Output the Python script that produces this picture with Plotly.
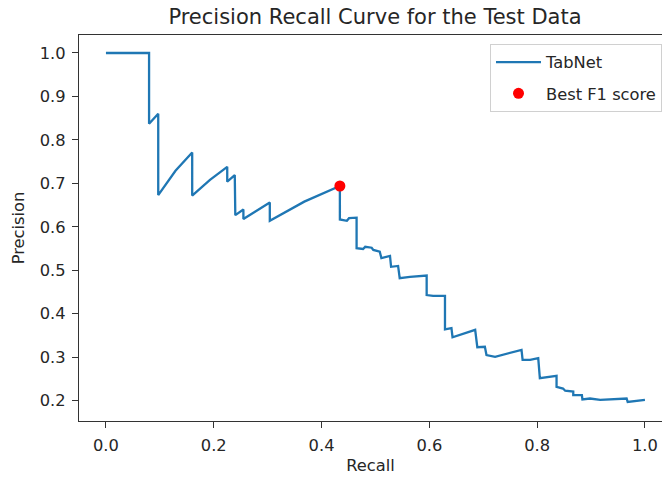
import plotly.graph_objects as go

# Precision-recall curve values
recall = [0.000, 0.080, 0.080, 0.097, 0.097, 0.129, 0.160, 0.160, 0.193, 0.225,
          0.225, 0.239, 0.240, 0.255, 0.255, 0.304, 0.304, 0.368, 0.434, 0.434,
          0.447, 0.451, 0.465, 0.465, 0.477, 0.481, 0.493, 0.496, 0.508, 0.511,
          0.527, 0.529, 0.542, 0.545, 0.564, 0.595, 0.595, 0.607, 0.629, 0.629,
          0.641, 0.643, 0.685, 0.689, 0.703, 0.706, 0.722, 0.771, 0.773, 0.787,
          0.802, 0.805, 0.836, 0.836, 0.848, 0.852, 0.867, 0.867, 0.883, 0.884,
          0.898, 0.917, 0.966, 0.968, 1.000]
precision = [1.000, 1.000, 0.837, 0.860, 0.673, 0.729, 0.771, 0.672, 0.708, 0.738,
             0.704, 0.719, 0.627, 0.640, 0.618, 0.656, 0.614, 0.658, 0.694, 0.617,
             0.614, 0.620, 0.621, 0.551, 0.549, 0.554, 0.552, 0.547, 0.543, 0.528,
             0.533, 0.508, 0.510, 0.482, 0.485, 0.488, 0.443, 0.441, 0.441, 0.364,
             0.367, 0.346, 0.363, 0.323, 0.324, 0.305, 0.301, 0.317, 0.294, 0.294,
             0.298, 0.252, 0.257, 0.232, 0.228, 0.223, 0.221, 0.213, 0.213, 0.203,
             0.205, 0.202, 0.205, 0.197, 0.202]

best_recall = [0.434]
best_precision = [0.694]

series_names = ["TabNet", "Best F1 score"]
x_ticks = [0.0, 0.2, 0.4, 0.6, 0.8, 1.0]
y_ticks = [0.2, 0.3, 0.4, 0.5, 0.6, 0.7, 0.8, 0.9, 1.0]

FONT = "DejaVu Sans"
TXT = "#262626"
FS = 16.3

fig = go.Figure()
fig.add_trace(go.Scatter(
    x=recall, y=precision, mode="lines", name=series_names[0],
    line=dict(color="#1f77b4", width=2.3), legendgroup="a",
))
fig.add_trace(go.Scatter(
    x=best_recall, y=best_precision, mode="markers", name=series_names[1],
    marker=dict(color="red", size=11), legendgroup="b",
))

fig.update_layout(
    width=662, height=477,
    margin=dict(l=79, r=0, t=35, b=56),
    paper_bgcolor="white", plot_bgcolor="white",
    font=dict(family=FONT, size=FS, color=TXT),
    title=dict(text="Precision Recall Curve for the Test Data",
               x=375 / 662, xanchor="center", xref="container",
               y=1 - 17 / 477, yanchor="middle", yref="container",
               font=dict(size=21, color=TXT, family=FONT)),
    showlegend=True,
    legend=dict(x=1, xanchor="right", y=1 - 9 / 386, yanchor="top",
                bgcolor="white", bordercolor="#d0d0d0", borderwidth=1,
                font=dict(size=FS, color=TXT, family=FONT),
                tracegroupgap=7, itemwidth=45),
)
fig.update_xaxes(
    range=[-0.05, -0.05 + 583 / 539], tickvals=x_ticks,
    ticktext=[f"{v:.1f}" for v in x_ticks],
    showgrid=False, zeroline=False, showline=True, linecolor="#333", linewidth=1.3,
    mirror=True, ticks="outside", ticklen=6, tickcolor="#333", tickwidth=1.3,
    ticklabelstandoff=3,
    title=dict(text="Recall", font=dict(size=FS, color=TXT), standoff=5),
)
fig.update_yaxes(
    range=[0.1533, 1.0414], tickvals=y_ticks,
    ticktext=[f"{v:.1f}" for v in y_ticks],
    showgrid=False, zeroline=False, showline=True, linecolor="#333", linewidth=1.3,
    mirror=False, ticks="outside", ticklen=6, tickcolor="#333", tickwidth=1.3,
    ticklabelstandoff=3,
    title=dict(text="Precision", font=dict(size=FS, color=TXT), standoff=10),
)

fig.write_html("out.html")
